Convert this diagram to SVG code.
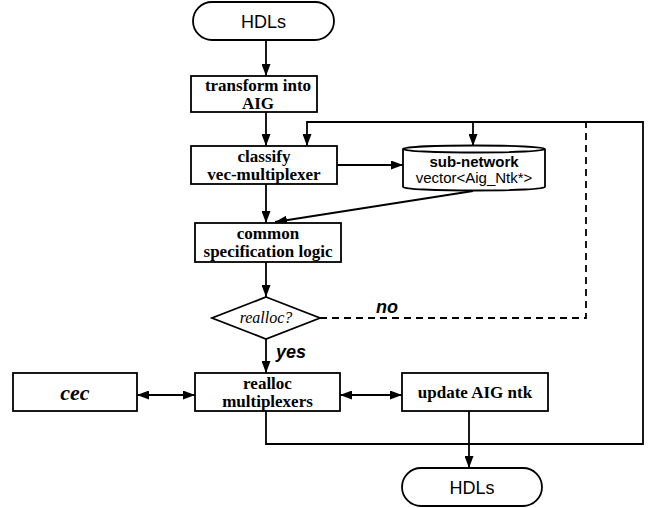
<svg xmlns="http://www.w3.org/2000/svg" width="654" height="508" viewBox="0 0 654 508">
<style>
.box{fill:#fff;stroke:#000;stroke-width:1.8}
.ln{fill:none;stroke:#000;stroke-width:1.8}
.dash{fill:none;stroke:#000;stroke-width:1.8;stroke-dasharray:7 5}
.bt{font-family:"Liberation Serif",serif;font-weight:bold;font-size:17px;text-anchor:middle}
.st{font-family:"Liberation Sans",sans-serif;font-size:18px;text-anchor:middle}
.lb{font-family:"Liberation Sans",sans-serif;font-weight:bold;font-style:italic;font-size:18px}
</style>
<defs>
<marker id="ah" viewBox="0 0 12 9" refX="12" refY="4.5" markerWidth="12" markerHeight="9" markerUnits="userSpaceOnUse" orient="auto-start-reverse">
<path d="M0,0 L12,4.5 L0,9 z" fill="#000"/>
</marker>
</defs>
<g id="connectors">
<line class="ln" x1="266" y1="40" x2="266" y2="76" marker-end="url(#ah)"/>
<line class="ln" x1="266" y1="112" x2="266" y2="146" marker-end="url(#ah)"/>
<line class="ln" x1="266" y1="184" x2="266" y2="223" marker-end="url(#ah)"/>
<line class="ln" x1="337" y1="165" x2="403" y2="165" marker-end="url(#ah)"/>
<line class="ln" x1="473" y1="191" x2="275" y2="222" marker-end="url(#ah)"/>
<line class="ln" x1="266" y1="262" x2="266" y2="297" marker-end="url(#ah)"/>
<line class="ln" x1="266" y1="339" x2="266" y2="373" marker-end="url(#ah)"/>
<line class="ln" x1="137" y1="395" x2="195" y2="395" marker-start="url(#ah)" marker-end="url(#ah)"/>
<line class="ln" x1="340" y1="395" x2="402" y2="395" marker-start="url(#ah)" marker-end="url(#ah)"/>
<line class="ln" x1="469" y1="411" x2="469" y2="468" marker-end="url(#ah)"/>
<path class="ln" d="M266,411 V444 H643 V122 H307 V146" marker-end="url(#ah)"/>
<line class="ln" x1="473" y1="122" x2="473" y2="146" marker-end="url(#ah)"/>
<path class="dash" d="M320,318 H586 V122 H307"/>
<text class="lb" x="376" y="313">no</text>
<text class="lb" x="276" y="358">yes</text>
</g>
<g id="hdls-top">
<rect class="box" x="193" y="2" width="141" height="38" rx="19"/>
<text class="st" x="263.5" y="28">HDLs</text>
</g>
<g id="transform">
<rect class="box" x="191" y="76" width="126" height="36"/>
<text class="bt" x="258" y="91">transform into</text>
<text class="bt" x="258" y="109">AIG</text>
</g>
<g id="classify">
<rect class="box" x="191" y="146" width="146" height="38"/>
<text class="bt" x="264" y="162">classify</text>
<text class="bt" x="264" y="180">vec-multiplexer</text>
</g>
<g id="subnetwork">
<path class="box" d="M403,149 V187 A71,3.5 0 0 0 545,187 V149"/>
<ellipse class="box" cx="474" cy="149" rx="71" ry="3.5"/>
<text x="474" y="167" style="font-family:'Liberation Sans',sans-serif;font-weight:bold;font-size:15px;text-anchor:middle">sub-network</text>
<text x="474" y="183" style="font-family:'Liberation Sans',sans-serif;font-size:15px;text-anchor:middle">vector&lt;Aig_Ntk*&gt;</text>
</g>
<g id="common">
<rect class="box" x="195" y="223" width="146" height="39"/>
<text class="bt" x="268" y="239">common</text>
<text class="bt" x="268" y="257">specification logic</text>
</g>
<g id="decision">
<polygon class="box" points="266,297 320,318 266,339 212,318"/>
<text x="266" y="323" style="font-family:'Liberation Serif',serif;font-style:italic;font-size:16px;text-anchor:middle">realloc?</text>
</g>
<g id="cec">
<rect class="box" x="13" y="373" width="124" height="38"/>
<text x="75" y="400" style="font-family:'Liberation Serif',serif;font-weight:bold;font-style:italic;font-size:22px;text-anchor:middle">cec</text>
</g>
<g id="realloc">
<rect class="box" x="195" y="373" width="145" height="38"/>
<text class="bt" x="267.5" y="389">realloc</text>
<text class="bt" x="267.5" y="407">multiplexers</text>
</g>
<g id="update">
<rect class="box" x="402" y="373" width="146" height="38"/>
<text class="bt" x="475" y="398">update AIG ntk</text>
</g>
<g id="hdls-bottom">
<rect class="box" x="402" y="468" width="140" height="38" rx="19"/>
<text class="st" x="472" y="494">HDLs</text>
</g>
</svg>
